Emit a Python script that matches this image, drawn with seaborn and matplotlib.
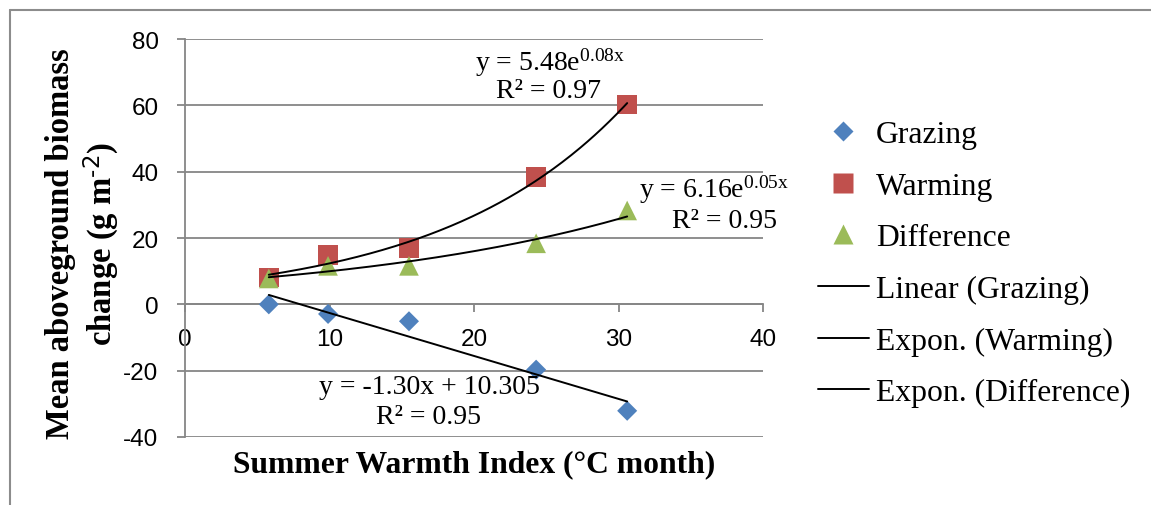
import numpy as np
import matplotlib
matplotlib.use("Agg")
import matplotlib.pyplot as plt
import seaborn as sns
from matplotlib.lines import Line2D
from matplotlib.ticker import FuncFormatter

# ---- data ----
swi = [5.8, 9.9, 15.5, 24.3, 30.6]
grazing = [0.0, -2.9, -5.1, -19.7, -32.1]
warming = [8.1, 14.8, 16.9, 38.3, 60.2]
difference = [7.8, 11.6, 11.6, 18.4, 28.3]
x_ticks = [0, 10, 20, 30, 40]
y_ticks = [-40, -20, 0, 20, 40, 60, 80]
series_names = ["Grazing", "Warming", "Difference"]
trend_names = ["Linear (Grazing)", "Expon. (Warming)", "Expon. (Difference)"]
eq_texts = [("y = -1.30x + 10.305", "R² = 0.95"),
            (r"y = 5.48e$^{0.08x}$", "R² = 0.97"),
            (r"y = 6.16e$^{0.05x}$", "R² = 0.95")]

BLUE, RED, GREEN = "#4F81BD", "#C0504D", "#9BBB59"
GRID = "#868686"

sns.set_theme(style="white")
plt.rcParams["font.family"] = ["Liberation Serif", "DejaVu Serif"]
plt.rcParams["mathtext.default"] = "regular"
plt.rcParams["axes.unicode_minus"] = False
plt.rcParams["text.color"] = "black"

W, H = 1151, 506
fig = plt.figure(figsize=(W / 100, H / 100), dpi=100)
ax = fig.add_axes([185 / W, 1 - 438 / H, (763 - 185) / W, (438 - 40) / H])

x = np.array(swi)
# trendlines fitted from the data
xf = np.linspace(x.min(), x.max(), 200)
p = np.polyfit(x, grazing, 1)
bw = np.polyfit(x, np.log(warming), 1)
bd = np.polyfit(x, np.log(difference), 1)
sns.lineplot(x=xf, y=np.polyval(p, xf), color="black", lw=1.4, ax=ax, zorder=4)
sns.lineplot(x=xf, y=np.exp(np.polyval(bw, xf)), color="black", lw=1.4, ax=ax, zorder=4)
sns.lineplot(x=xf, y=np.exp(np.polyval(bd, xf)), color="black", lw=1.4, ax=ax, zorder=4)

sns.scatterplot(x=swi, y=grazing, marker="D", s=104, color=BLUE, edgecolor="none", ax=ax, zorder=3)
sns.scatterplot(x=swi, y=warming, marker="s", s=200, color=RED, edgecolor="none", ax=ax, zorder=3)
sns.scatterplot(x=swi, y=difference, marker="^", s=200, color=GREEN, edgecolor="none", ax=ax, zorder=3)

ax.set_xlim(0, 40)
ax.set_ylim(-40, 80)
ax.set_xticks(x_ticks)
ax.set_yticks(y_ticks)
fmt = FuncFormatter(lambda v, pos: str(int(round(v))))
ax.xaxis.set_major_formatter(fmt)
ax.yaxis.set_major_formatter(fmt)
ax.yaxis.grid(True, color=GRID, lw=1.3)
ax.xaxis.grid(False)
for s in ["top", "right"]:
    ax.spines[s].set_visible(False)
ax.spines["left"].set_color(GRID)
ax.spines["left"].set_linewidth(1.3)
ax.spines["bottom"].set_position(("data", 0))
ax.spines["bottom"].set_color(GRID)
ax.spines["bottom"].set_linewidth(1.3)
ax.tick_params(axis="y", direction="out", length=6, width=1.3, color=GRID, pad=13, left=True,
               labelcolor="black")
ax.tick_params(axis="x", direction="out", length=6, width=1.3, color=GRID, pad=11, bottom=True,
               labelcolor="black")
tickfont = ["Liberation Sans Narrow", "Liberation Sans", "DejaVu Sans"]
for lab in ax.get_xticklabels() + ax.get_yticklabels():
    lab.set_family(tickfont)
    lab.set_fontsize(17.5)

ax.set_xlabel("")
ax.set_ylabel("")
fig.text(474 / W, 1 - 465 / H, "Summer Warmth Index (°C month)", ha="center", va="center",
         fontsize=22.8, fontweight="bold", color="black")
fig.text(83 / W, 1 - 244 / H, "Mean aboveground biomass\nchange (g m$^{\\text{-2}}$)", ha="center",
         va="center", rotation=90, fontsize=23.5, fontweight="bold", linespacing=1.2, color="black")

# equations
eq_pos = [((429, 388), (428, 418)), ((550, 63), (549, 92)), ((714, 190), (725, 222))]
for (l1, l2), ((x1, y1), (x2, y2)) in zip(eq_texts, eq_pos):
    fig.text(x1 / W, 1 - y1 / H, l1, ha="center", va="center", fontsize=20, color="black")
    fig.text(x2 / W, 1 - y2 / H, l2, ha="center", va="center", fontsize=20, color="black")

# borders of the chart area (top and left visible)
fig.add_artist(Line2D([10 / W, 10 / W], [0, 1 - 11 / H], color="#8c8c8c", lw=1.5))
fig.add_artist(Line2D([10 / W, 1], [1 - 11 / H, 1 - 11 / H], color="#8c8c8c", lw=1.5))

handles = [
    Line2D([], [], ls="none", marker="D", ms=10, color=BLUE, mec="none"),
    Line2D([], [], ls="none", marker="s", ms=14, color=RED, mec="none"),
    Line2D([], [], ls="none", marker="^", ms=14, color=GREEN, mec="none"),
    Line2D([], [], color="black", lw=1.4),
    Line2D([], [], color="black", lw=1.4),
    Line2D([], [], color="black", lw=1.4),
]
leg = fig.legend(handles, series_names + trend_names, loc="upper left",
                 bbox_to_anchor=(818 / W, 1 - 121 / H), frameon=False, fontsize=22.8,
                 handlelength=1.6, handletextpad=0.22, labelspacing=0.71, borderpad=0,
                 borderaxespad=0)
for t in leg.get_texts():
    t.set_color("black")

fig.savefig("out.png", dpi=100, facecolor="white")
